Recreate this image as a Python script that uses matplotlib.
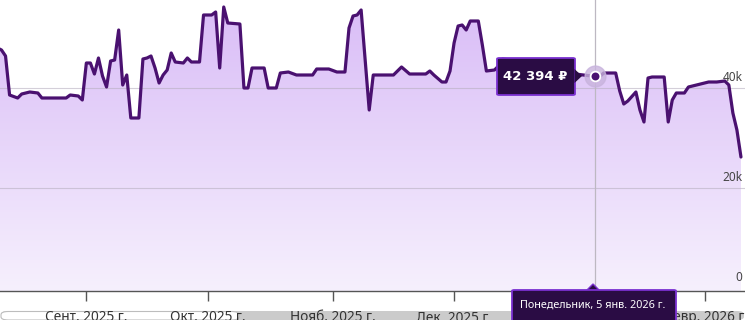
import numpy as np
import pandas as pd
import matplotlib
matplotlib.use("Agg")
import matplotlib.pyplot as plt
import matplotlib.dates as mdates
from matplotlib.patches import FancyBboxPatch, Polygon
from matplotlib.colors import LinearSegmentedColormap

# ========= DATA =========
dates = [
    "2025-08-10", "2025-08-11", "2025-08-12", "2025-08-13", "2025-08-15", "2025-08-16",
    "2025-08-18", "2025-08-20", "2025-08-21", "2025-08-27", "2025-08-28", "2025-08-30",
    "2025-08-31", "2025-09-01", "2025-09-02", "2025-09-03", "2025-09-04", "2025-09-05",
    "2025-09-06", "2025-09-07", "2025-09-08", "2025-09-09", "2025-09-10", "2025-09-11",
    "2025-09-12", "2025-09-14", "2025-09-15", "2025-09-16", "2025-09-17", "2025-09-18",
    "2025-09-19", "2025-09-20", "2025-09-21", "2025-09-22", "2025-09-23", "2025-09-25",
    "2025-09-26", "2025-09-27", "2025-09-29", "2025-09-30", "2025-10-02", "2025-10-03",
    "2025-10-04", "2025-10-05", "2025-10-06", "2025-10-09", "2025-10-10", "2025-10-11",
    "2025-10-12", "2025-10-15", "2025-10-16", "2025-10-18", "2025-10-19", "2025-10-21",
    "2025-10-23", "2025-10-27", "2025-10-28", "2025-10-31", "2025-11-02", "2025-11-04",
    "2025-11-05", "2025-11-06", "2025-11-07", "2025-11-08", "2025-11-10", "2025-11-11",
    "2025-11-16", "2025-11-18", "2025-11-20", "2025-11-24", "2025-11-25", "2025-11-26",
    "2025-11-28", "2025-11-29", "2025-11-30", "2025-12-01", "2025-12-02", "2025-12-03",
    "2025-12-04", "2025-12-05", "2025-12-07", "2025-12-08", "2025-12-09", "2025-12-11",
    "2025-12-12", "2025-12-13", "2025-12-20", "2025-12-28", "2025-12-29", "2025-12-30",
    "2025-12-31", "2026-01-02", "2026-01-04", "2026-01-05", "2026-01-06", "2026-01-07",
    "2026-01-10", "2026-01-11", "2026-01-12", "2026-01-13", "2026-01-15", "2026-01-16",
    "2026-01-17", "2026-01-18", "2026-01-19", "2026-01-22", "2026-01-23", "2026-01-24",
    "2026-01-25", "2026-01-27", "2026-01-28", "2026-01-29", "2026-01-31", "2026-02-02",
    "2026-02-04", "2026-02-06", "2026-02-07", "2026-02-08", "2026-02-09", "2026-02-10",
]
prices = [
    48000, 47600, 46400, 38600, 38000, 38800,
    39200, 39000, 38000, 38000, 38600, 38400,
    37600, 45000, 45000, 42800, 46000, 42400,
    40200, 45400, 45600, 51600, 40600, 42600,
    34000, 34000, 45800, 46000, 46400, 44000,
    41000, 42600, 43600, 47000, 45200, 45000,
    46000, 45200, 45200, 54600, 54600, 55200,
    44000, 56200, 53000, 52800, 40000, 40000,
    44000, 44000, 40000, 40000, 43000, 43200,
    42600, 42600, 43800, 43800, 43200, 43200,
    52000, 54400, 54600, 55600, 35600, 42600,
    42600, 44200, 42800, 42800, 43400, 42600,
    41200, 41200, 43400, 49000, 52400, 52600,
    51600, 53400, 53400, 48600, 43400, 43600,
    44400, 45800, 45000, 44400, 44200, 43600,
    42800, 42600, 42400, 42394, 42200, 43000,
    43000, 39400, 36800, 37400, 39200, 35600,
    33200, 42000, 42200, 42200, 33200, 37600,
    39000, 39000, 40200, 40400, 40800, 41200,
    41200, 41400, 40600, 35000, 31600, 26200,
]

month_ticks = ["2025-09-01", "2025-10-01", "2025-11-01", "2025-12-01", "2026-01-01", "2026-02-01"]
month_labels = ["Сент. 2025 г.", "Окт. 2025 г.", "Нояб. 2025 г.", "Дек. 2025 г.", "Янв. 2026 г.", "Февр. 2026 г."]
y_ticks = [0, 20000, 40000]
y_labels = ["0", "20k", "40k"]

hover_date = "2026-01-05"
hover_price = 42394
hover_text = "42 394 ₽"
hover_day_text = "Понедельник, 5 янв. 2026 г."

# ========= STYLE =========
LINE = "#4a1170"
FONT = ["Noto Sans", "DejaVu Sans"]
plt.rcParams["font.family"] = FONT

W, H = 745, 320
fig = plt.figure(figsize=(W / 100, H / 100), dpi=100)
fig.patch.set_facecolor("white")

def fx(px):
    return px / W

def fy(py):
    return 1 - py / H

ax = fig.add_axes([0, fy(291), 1, 291 / H])
ax.set_facecolor("white")
ax.set_zorder(1)
ax.patch.set_alpha(0)

x = mdates.date2num(pd.to_datetime(dates))
y = np.array(prices, dtype=float)

x0 = mdates.date2num(pd.Timestamp("2025-08-10")) + 0.63
x1 = mdates.date2num(pd.Timestamp("2025-09-01")) + 163.0
ymin, ymax = -600, 57600
ax.set_xlim(x0, x1)
ax.set_ylim(ymin, ymax)

# gradient fill under the line
poly = ax.fill_between(x, y, ymin, color="none", lw=0)
cmap = LinearSegmentedColormap.from_list("g", ["#f6f0fd", "#d9bcf7"])
grad = np.linspace(0, 1, 256).reshape(-1, 1)
im = ax.imshow(grad, cmap=cmap, aspect="auto", origin="lower",
               extent=[x0, x1, ymin, ymax], zorder=1)
im.set_clip_path(poly.get_paths()[0], transform=ax.transData)

# grid lines
for v in y_ticks[1:]:
    ax.axhline(v, color="#b8b0c0", lw=0.8, alpha=0.6, zorder=2)

# crosshair
hx = mdates.date2num(pd.Timestamp(hover_date))
ax.axvline(hx, color="#bdb8c2", lw=0.9, zorder=2)

ax.plot(x, y, color=LINE, lw=2.3, solid_joinstyle="round", solid_capstyle="round", zorder=3)

# hover marker
ax.plot([hx], [hover_price], "o", ms=15, color="#c8b3dd", alpha=0.8, zorder=4)
ax.plot([hx], [hover_price], "o", ms=7, mfc=LINE, mec="white", mew=1.3, zorder=5)

# y labels inside plot, right side
for v, lab in zip(y_ticks, y_labels):
    ax.text(x1 - 0.6, v + 800, lab, ha="right", va="bottom", fontsize=8.5, color="#444444", zorder=6)

# axes styling
for s in ["top", "right", "left"]:
    ax.spines[s].set_visible(False)
ax.spines["bottom"].set_color("#555555")
ax.spines["bottom"].set_linewidth(1.0)
ax.set_yticks([])
ax.set_xticks(mdates.date2num(pd.to_datetime(month_ticks)))
ax.set_xticklabels(month_labels)
ax.tick_params(axis="x", length=7.5, width=1, color="#555555", pad=6.5,
               labelsize=9.8, labelcolor="#333333")

# scrollbar under labels
fig.patches.append(FancyBboxPatch((fx(1), fy(320)), fx(743), fy(311) - fy(320),
                                  boxstyle="round,pad=0,rounding_size=0.01",
                                  transform=fig.transFigure, fc="#cbcbcb", ec="none", zorder=-2))
fig.patches.append(FancyBboxPatch((fx(1), fy(320)), fx(238), fy(311.5) - fy(320),
                                  boxstyle="round,pad=0,rounding_size=0.01",
                                  transform=fig.transFigure, fc="white", ec="#bdbdbd", lw=0.8, zorder=-1))

# price tooltip
fig.patches.append(FancyBboxPatch((fx(497), fy(95)), fx(78), fy(58) - fy(95),
                                  boxstyle="round,pad=0,rounding_size=0.003",
                                  transform=fig.transFigure, fc="#2a0c44", ec="#7a30d0", lw=1.3, zorder=10))
fig.patches.append(Polygon([(fx(574.5), fy(69)), (fx(582), fy(76)), (fx(574.5), fy(83))],
                           closed=True, transform=fig.transFigure, fc="#2a0c44", ec="none", zorder=11))
fig.text(fx(535), fy(77), hover_text, ha="center", va="center", fontsize=9.5,
         fontweight="bold", color="white", family="DejaVu Sans", zorder=12)

# date tooltip
fig.patches.append(FancyBboxPatch((fx(512), fy(325)), fx(164), fy(290) - fy(325),
                                  boxstyle="round,pad=0,rounding_size=0.003",
                                  transform=fig.transFigure, fc="#2a0c44", ec="#7a30d0", lw=1.3, zorder=10))
fig.patches.append(Polygon([(fx(586), fy(291)), (fx(593), fy(284)), (fx(600), fy(291))],
                           closed=True, transform=fig.transFigure, fc="#2a0c44", ec="#7a30d0", lw=1.0, zorder=9))
fig.text(fx(593), fy(305), hover_day_text, ha="center", va="center", fontsize=7.8,
         color="white", family=FONT, zorder=12)

fig.savefig("out.png", dpi=100)
